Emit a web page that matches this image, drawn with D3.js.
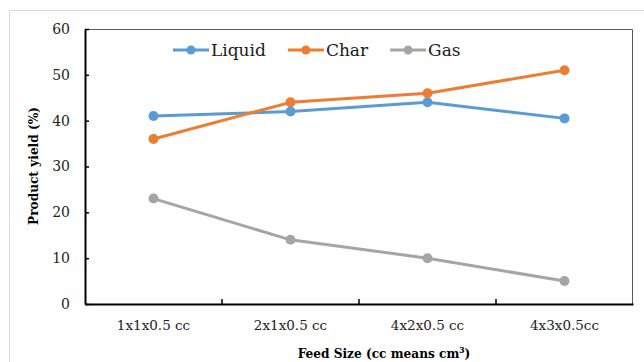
<!DOCTYPE html>
<html>
<head>
<meta charset="utf-8">
<script src="https://cdn.jsdelivr.net/npm/d3@7"></script>
<style>
    body { margin: 0; background: #fff; }
    svg text { font-family: 'DejaVu Serif', serif; }
</style>
</head>
<body>
<div id="chart"></div>
<script>
// Feed size vs product yield
const categories = ['1x1x0.5 cc', '2x1x0.5 cc', '4x2x0.5 cc', '4x3x0.5cc'];
const liquid = [41, 42, 44, 40.5];
const char = [36, 44, 46, 51];
const gas = [23, 14, 10, 5];
const yTicks = [0, 10, 20, 30, 40, 50, 60];

const series = [
    { name: 'Liquid', values: liquid, color: '#5B9BD5' },
    { name: 'Char', values: char, color: '#ED7D31' },
    { name: 'Gas', values: gas, color: '#A5A5A5' }
];

const W = 644, H = 362;
const margin = { top: 29, right: 11, bottom: 58, left: 85 };
const width = W - margin.left - margin.right;
const height = H - margin.top - margin.bottom;

const svg = d3.select('#chart')
    .append('svg')
    .attr('width', W)
    .attr('height', H);

// Outer chart border
svg.append('rect')
    .attr('x', 9.5)
    .attr('y', 10.5)
    .attr('width', W)
    .attr('height', H)
    .attr('fill', 'none')
    .attr('stroke', '#d9d9d9');

const g = svg.append('g')
    .attr('transform', `translate(${margin.left}, ${margin.top})`);

const xScale = d3.scaleBand()
    .domain(categories)
    .range([0, width]);

const yScale = d3.scaleLinear()
    .domain([0, 60])
    .range([height, 0]);

// Plot area frame (top and right)
g.append('path')
    .attr('d', `M0,0.5H${width - 0.5}V${height}`)
    .attr('fill', 'none')
    .attr('stroke', '#595959')
    .attr('stroke-width', 1);

// Y axis
const yAxis = g.append('g')
    .call(d3.axisLeft(yScale)
        .tickValues(yTicks)
        .tickSizeInner(-4)
        .tickSizeOuter(0)
        .tickPadding(15));
yAxis.select('.domain').attr('stroke', '#000').attr('stroke-width', 2);
yAxis.selectAll('.tick line').attr('stroke', '#000').attr('stroke-width', 1.5);
yAxis.selectAll('text')
    .attr('fill', '#222')
    .style('font-size', '14px');

// X axis with ticks between categories
const xAxis = g.append('g')
    .attr('transform', `translate(0, ${height})`)
    .call(d3.axisBottom(xScale)
        .tickSize(0)
        .tickPadding(16));
xAxis.select('.domain').attr('stroke', '#000').attr('stroke-width', 2);
xAxis.selectAll('text')
    .attr('fill', '#222')
    .style('font-size', '13.5px');

g.selectAll('.xsep')
    .data(categories.slice(1))
    .enter()
    .append('line')
    .attr('class', 'xsep')
    .attr('x1', d => xScale(d))
    .attr('x2', d => xScale(d))
    .attr('y1', height)
    .attr('y2', height - 5)
    .attr('stroke', '#000')
    .attr('stroke-width', 1.5);

// Lines and markers
const line = d3.line()
    .x((d, i) => xScale(categories[i]) + xScale.bandwidth() / 2)
    .y(d => yScale(d));

series.forEach(s => {
    g.append('path')
        .datum(s.values)
        .attr('fill', 'none')
        .attr('stroke', s.color)
        .attr('stroke-width', 3)
        .attr('stroke-linejoin', 'round')
        .attr('d', line);

    g.selectAll(null)
        .data(s.values)
        .enter()
        .append('circle')
        .attr('cx', (d, i) => xScale(categories[i]) + xScale.bandwidth() / 2)
        .attr('cy', d => yScale(d))
        .attr('r', 5)
        .attr('fill', s.color);
});

// Legend
const legend = svg.append('g')
    .attr('transform', 'translate(173, 50)');
let lx = 0;
series.forEach(s => {
    const item = legend.append('g').attr('transform', `translate(${lx}, 0)`);
    item.append('line')
        .attr('x1', 0)
        .attr('x2', 36)
        .attr('stroke', s.color)
        .attr('stroke-width', 3);
    item.append('circle')
        .attr('cx', 18)
        .attr('r', 4.5)
        .attr('fill', s.color);
    const t = item.append('text')
        .attr('x', 38)
        .attr('dy', '0.35em')
        .attr('fill', '#1a1a1a')
        .style('font-size', '17px')
        .text(s.name);
    lx += 38 + t.node().getComputedTextLength() + 22;
});

// Axis titles
svg.append('text')
    .attr('transform', 'translate(38, 166) rotate(-90)')
    .attr('text-anchor', 'middle')
    .attr('fill', '#000')
    .style('font-family', "'DejaVu Serif Condensed', 'DejaVu Serif', serif")
    .style('font-weight', 'bold')
    .style('font-size', '13.5px')
    .text('Product yield (%)');

svg.append('text')
    .attr('x', 384)
    .attr('y', 358)
    .attr('text-anchor', 'middle')
    .attr('fill', '#000')
    .style('font-family', "'DejaVu Serif Condensed', 'DejaVu Serif', serif")
    .style('font-weight', 'bold')
    .style('font-size', '13.5px')
    .text('Feed Size (cc means cm³)');
</script>
</body>
</html>
